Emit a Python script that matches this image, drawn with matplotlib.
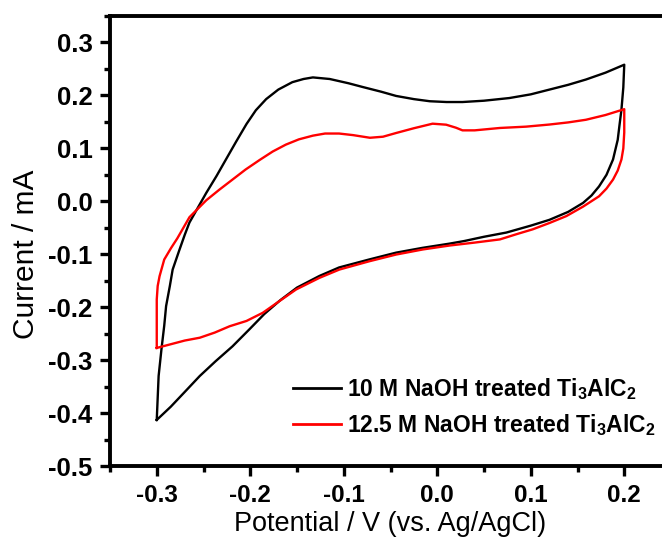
import matplotlib
matplotlib.use("Agg")
import matplotlib.pyplot as plt
from matplotlib.ticker import MultipleLocator

plt.rcParams['font.family'] = ['Liberation Sans', 'DejaVu Sans']
plt.rcParams['mathtext.fontset'] = 'custom'
plt.rcParams['mathtext.rm'] = 'Liberation Sans:bold'
plt.rcParams['mathtext.it'] = 'Liberation Sans:bold'
plt.rcParams['mathtext.bf'] = 'Liberation Sans:bold'

# 10 M NaOH treated Ti3AlC2 (black)
black_fwd_x = [-0.300, -0.298, -0.295, -0.292, -0.290, -0.286, -0.283, -0.276, -0.270, -0.265,
               -0.256, -0.247, -0.236, -0.226, -0.215, -0.204, -0.194, -0.183, -0.170, -0.155,
               -0.143, -0.133, -0.115, -0.095, -0.080, -0.060, -0.044, -0.025, -0.008, 0.010,
               0.027, 0.050, 0.077, 0.100, 0.120, 0.140, 0.159, 0.180, 0.200]
black_fwd_y = [-0.413, -0.330, -0.280, -0.235, -0.198, -0.160, -0.129, -0.093, -0.063, -0.040,
               -0.012, 0.016, 0.048, 0.079, 0.113, 0.146, 0.172, 0.193, 0.211, 0.225,
               0.231, 0.234, 0.231, 0.223, 0.216, 0.207, 0.199, 0.193, 0.189, 0.1875,
               0.1875, 0.190, 0.195, 0.202, 0.211, 0.220, 0.230, 0.243, 0.258]
black_rev_x = [0.200, 0.199, 0.197, 0.195, 0.193, 0.188, 0.181, 0.173, 0.165, 0.156,
               0.140, 0.120, 0.100, 0.074, 0.050, 0.029, 0.013, -0.016, -0.044, -0.073,
               -0.105, -0.126, -0.150, -0.168, -0.185, -0.201, -0.219, -0.237, -0.254, -0.270,
               -0.285, -0.300]
black_rev_y = [0.258, 0.215, 0.173, 0.145, 0.116, 0.079, 0.050, 0.028, 0.011, -0.003,
               -0.020, -0.035, -0.046, -0.059, -0.067, -0.075, -0.080, -0.088, -0.097, -0.110,
               -0.125, -0.141, -0.163, -0.187, -0.213, -0.242, -0.274, -0.302, -0.330, -0.360,
               -0.388, -0.413]

# 12.5 M NaOH treated Ti3AlC2 (red)
red_fwd_x = [-0.300, -0.300, -0.300, -0.299, -0.297, -0.292, -0.2846, -0.278, -0.265, -0.256,
             -0.247, -0.233, -0.219, -0.205, -0.190, -0.176, -0.162, -0.148, -0.133, -0.120,
             -0.105, -0.090, -0.072, -0.058, -0.044, -0.025, -0.005, 0.0095, 0.020, 0.027,
             0.040, 0.067, 0.095, 0.120, 0.140, 0.159, 0.180, 0.200]
red_fwd_y = [-0.277, -0.230, -0.1855, -0.160, -0.1415, -0.110, -0.088, -0.070, -0.030, -0.014,
             0.002, 0.022, 0.041, 0.060, 0.078, 0.094, 0.107, 0.117, 0.124, 0.128,
             0.128, 0.125, 0.120, 0.122, 0.129, 0.138, 0.1466, 0.1447, 0.139, 0.134,
             0.134, 0.1385, 0.141, 0.145, 0.149, 0.154, 0.163, 0.174]
red_rev_x = [0.200, 0.200, 0.199, 0.197, 0.193, 0.188, 0.181, 0.173, 0.156, 0.138,
             0.120, 0.102, 0.085, 0.067, 0.040, 0.013, -0.0155, -0.044, -0.0725, -0.1046,
             -0.126, -0.151, -0.170, -0.1866, -0.204, -0.222, -0.238, -0.254, -0.270, -0.285,
             -0.300]
red_rev_y = [0.174, 0.130, 0.100, 0.079, 0.058, 0.041, 0.024, 0.0094, -0.010, -0.028,
             -0.041, -0.053, -0.062, -0.072, -0.078, -0.0836, -0.091, -0.1006, -0.1132, -0.1289,
             -0.1446, -0.1666, -0.190, -0.2106, -0.226, -0.236, -0.248, -0.2577, -0.263, -0.270,
             -0.277]

labels = ['10 M NaOH treated Ti$_3$AlC$_2$', '12.5 M NaOH treated Ti$_3$AlC$_2$']
colors = ['#000000', '#ff0000']
xticks = [-0.3, -0.2, -0.1, 0.0, 0.1, 0.2]
yticks = [0.3, 0.2, 0.1, 0.0, -0.1, -0.2, -0.3, -0.4, -0.5]

W, H = 662, 537
fig = plt.figure(figsize=(W / 100, H / 100), dpi=100)
ax = fig.add_axes([110 / W, (H - 466) / H, (671 - 110) / W, (466 - 16) / H])

ax.plot(black_fwd_x + black_rev_x[1:], black_fwd_y + black_rev_y[1:], color=colors[0], lw=1.7,
        label=labels[0], solid_joinstyle='round')
ax.plot(red_fwd_x + red_rev_x[1:], red_fwd_y + red_rev_y[1:], color=colors[1], lw=1.7,
        label=labels[1], solid_joinstyle='round')

ax.set_xlim(-0.35, 0.25)
ax.set_ylim(-0.5, 0.35)
ax.set_xticks(xticks)
ax.set_yticks(yticks)
ax.set_xticklabels([f"{v:.1f}" for v in xticks])
ax.set_yticklabels([f"{v:.1f}" for v in yticks])
ax.xaxis.set_minor_locator(MultipleLocator(0.05))
ax.yaxis.set_minor_locator(MultipleLocator(0.05))
for lab in ax.get_xticklabels() + ax.get_yticklabels():
    lab.set_fontweight('bold')

for s in ['left', 'bottom', 'top']:
    ax.spines[s].set_linewidth(2.8)
ax.spines['right'].set_visible(False)

ax.tick_params(which='major', direction='out', length=7.5, width=2.4, labelsize=18.5, pad=5,
               top=False, right=False)
ax.tick_params(axis='x', which='major', pad=5.5, labelsize=17.5)
ax.tick_params(which='minor', direction='out', length=4, width=2.4, top=False, right=False)

ax.set_xlabel('Potential / V (vs. Ag/AgCl)', fontsize=19.5, labelpad=0)
ax.xaxis.set_label_coords(0.5, -0.1)
ax.xaxis.label.set_va('top')
ax.set_ylabel('Current / mA', fontsize=21.5)
ax.yaxis.set_label_coords(-0.125, 0.47)

leg = ax.legend(loc='upper left', bbox_to_anchor=(293 / W, (H - 376) / H),
                bbox_transform=fig.transFigure, frameon=False,
                prop={'size': 16.5, 'weight': 'bold'},
                handlelength=2.1, handletextpad=0.25, borderpad=0, borderaxespad=0,
                labelspacing=0.45)
for line in leg.get_lines():
    line.set_linewidth(2.0)

fig.savefig('out.png', dpi=100)
